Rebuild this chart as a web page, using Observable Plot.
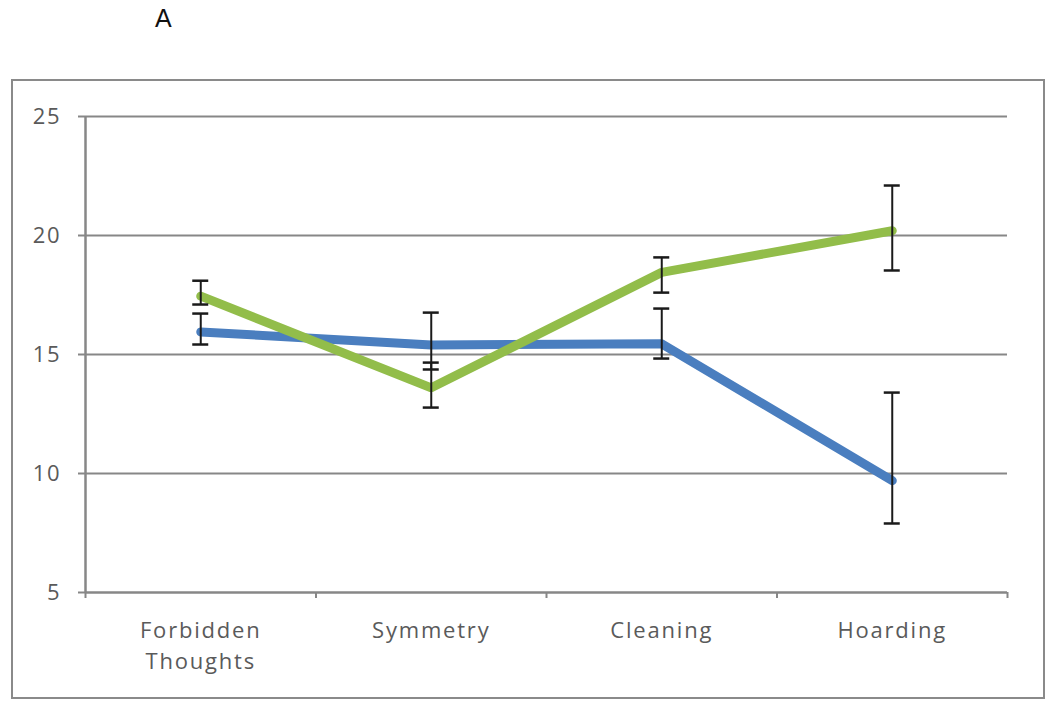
<!DOCTYPE html>
<html>
<head>
<meta charset="utf-8">
<script src="https://cdn.jsdelivr.net/npm/d3@7"></script>
<script src="https://cdn.jsdelivr.net/npm/@observablehq/plot@0.6"></script>
<style>
  html, body { margin: 0; padding: 0; background: #fff; }
  #wrap { position: relative; width: 1050px; height: 709px; overflow: hidden; }
  #head { position: relative; height: 40px; }
  #title { position: absolute; left: 155px; top: 6px; font: 25px/25px "Liberation Sans", Arial, sans-serif; color: #111; }
  #frame { position: absolute; left: 11px; top: 79px; width: 1030px; height: 616px; border: 2.5px solid #8a8a8a; pointer-events: none; }
  svg text { letter-spacing: 1.8px; }
</style>
</head>
<body>
<div id="wrap">
  <div id="head"><div id="title">A</div></div>
  <div id="chart"></div>
  <div id="frame"></div>
</div>
<script>
const categories = ["Forbidden Thoughts", "Symmetry", "Cleaning", "Hoarding"];
const tickLabels = ["Forbidden\nThoughts", "Symmetry", "Cleaning", "Hoarding"];
const yTicks = [5, 10, 15, 20, 25];
const gridValues = [10, 15, 20, 25];

const blueValues = [15.95, 15.4, 15.45, 9.7];
const blueLow    = [15.42, 14.37, 14.83, 7.9];
const blueHigh   = [16.72, 16.76, 16.93, 13.4];

const greenValues = [17.45, 13.6, 18.45, 20.2];
const greenLow    = [17.1, 12.77, 17.6, 18.53];
const greenHigh   = [18.1, 14.66, 19.08, 22.1];

const blueRows = categories.map((c, i) => ({cat: c, x: i + 0.5, value: blueValues[i], low: blueLow[i], high: blueHigh[i]}));
const greenRows = categories.map((c, i) => ({cat: c, x: i + 0.5, value: greenValues[i], low: greenLow[i], high: greenHigh[i]}));
const allRows = blueRows.concat(greenRows);

const gray = "#878787";
const blue = "#4A7EBF";
const green = "#92BD4A";

const chart = Plot.plot({
  width: 1050,
  height: 669,
  marginTop: 76,
  marginBottom: 117,
  marginLeft: 85,
  marginRight: 43,
  style: {fontFamily: "'Open Sans', sans-serif", fontSize: "22px", color: "#5a5a5a", background: "transparent"},
  x: {domain: [0, categories.length]},
  y: {domain: [5, 25]},
  marks: [
    Plot.ruleY(gridValues, {stroke: gray, strokeWidth: 2.2}),
    Plot.ruleY([5], {stroke: gray, strokeWidth: 2.5}),
    Plot.ruleX([0], {stroke: gray, strokeWidth: 2.5}),
    Plot.axisY({ticks: yTicks, tickSize: 7, tickPadding: 17, stroke: gray, strokeWidth: 2, label: null, tickFormat: d => String(d)}),
    Plot.axisX({ticks: d3.range(categories.length + 1), tickSize: 6, label: null, tickFormat: () => "", stroke: gray, strokeWidth: 2}),
    Plot.axisX({ticks: categories.map((c, i) => i + 0.5), tickSize: 0, tickPadding: 24, lineHeight: 1.4, label: null, tickFormat: d => tickLabels[Math.round(d - 0.5)]}),
    Plot.line(blueRows, {x: "x", y: "value", stroke: blue, strokeWidth: 9}),
    Plot.line(greenRows, {x: "x", y: "value", stroke: green, strokeWidth: 9}),
    Plot.ruleX(allRows, {x: "x", y1: "low", y2: "high", stroke: "#1a1a1a", strokeWidth: 2}),
    Plot.ruleY(allRows, {x1: "x", x2: "x", y: "low", insetLeft: -8, insetRight: -8, stroke: "#1a1a1a", strokeWidth: 2.5}),
    Plot.ruleY(allRows, {x1: "x", x2: "x", y: "high", insetLeft: -8, insetRight: -8, stroke: "#1a1a1a", strokeWidth: 2.5})
  ]
});
document.getElementById("chart").appendChild(chart);
</script>
</body>
</html>
